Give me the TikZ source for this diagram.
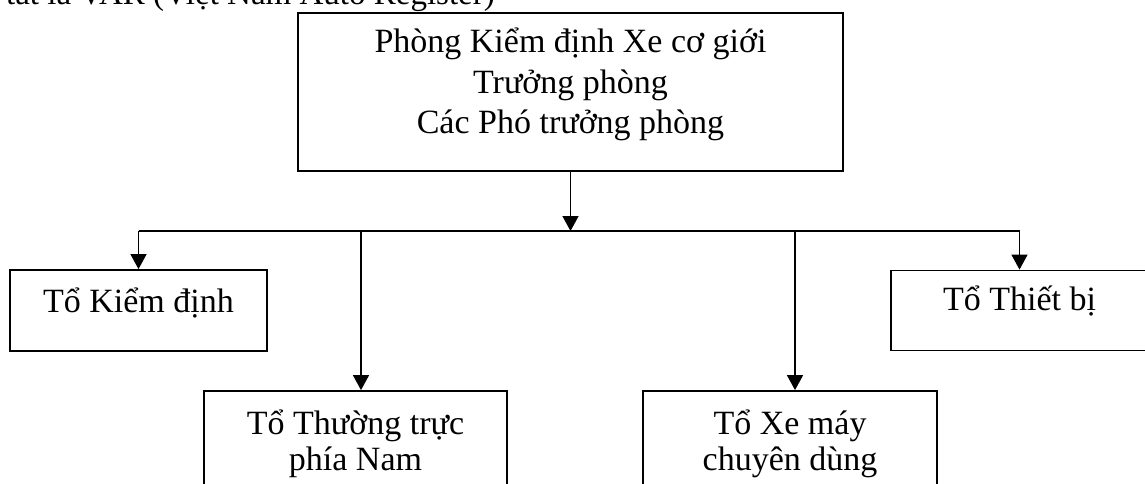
\documentclass[tikz,border=0pt]{standalone}
\usepackage{fontspec}
\setmainfont{Liberation Serif}
\usetikzlibrary{arrows.meta}
\begin{document}
\begin{tikzpicture}[x=1pt,y=-1pt,
  box/.style={draw=black,line width=1.8pt,fill=white,inner sep=0pt},
  txt/.style={font=\fontsize{34}{40}\selectfont,inner sep=0pt,align=center},
  conn/.style={line width=1.5pt,draw=black},
  arr/.style={conn,-{Triangle[width=16pt,length=15pt]}}]
\useasboundingbox (0,0) rectangle (1145,484);
\clip (0,0) rectangle (1145,484);
% cut-off heading line
\node[txt,anchor=base east,font=\fontsize{33}{40}\selectfont] (head) at (495,5) {tắt là VAR (Việt Nam Auto Register)};
% boxes
\node[box,minimum width=545pt,minimum height=158pt] (top) at (570.5,92) {};
\node[box,minimum width=257pt,minimum height=81pt] (kd) at (138.5,310.5) {};
\node[box,minimum width=257pt,minimum height=80pt] (tb) at (1019.5,310.5) {};
\node[box,minimum width=303pt,minimum height=110pt] (tt) at (355.5,446) {};
\node[box,minimum width=294pt,minimum height=110pt] (xm) at (790,446) {};
% texts
\node[txt,anchor=base] (topt1) at (570.5,53) {Phòng Kiểm định Xe cơ giới};
\node[txt,anchor=base] (topt2) at (570.5,94) {Trưởng phòng};
\node[txt,anchor=base] (topt3) at (570.5,133) {Các Phó trưởng phòng};
\node[txt,anchor=base] (kdt) at (138.5,312) {Tổ Kiểm định};
\node[txt,anchor=base] (tbt) at (1019.5,310) {Tổ Thiết bị};
\node[txt,anchor=base] (ttt1) at (355.5,434) {Tổ Thường trực};
\node[txt,anchor=base] (ttt2) at (355.5,470) {phía Nam};
\node[txt,anchor=base] (xmt1) at (790,434) {Tổ Xe máy};
\node[txt,anchor=base] (xmt2) at (790,470) {chuyên dùng};
% connectors
\coordinate (bus) at (570.5,231);
\coordinate (busL) at (138.5,231);
\coordinate (busR) at (1019.5,231);
\coordinate (b2) at (361,231);
\coordinate (b3) at (795,231);
\draw[arr] (top.south) -- (bus);
\draw[conn] (busL) -- (busR);
\draw[arr] (busL) -- (kd.north);
\draw[arr] (busR) -- (tb.north);
\draw[arr] (b2) -- (b2 |- tt.north);
\draw[arr] (b3) -- (b3 |- xm.north);
\end{tikzpicture}
\end{document}
